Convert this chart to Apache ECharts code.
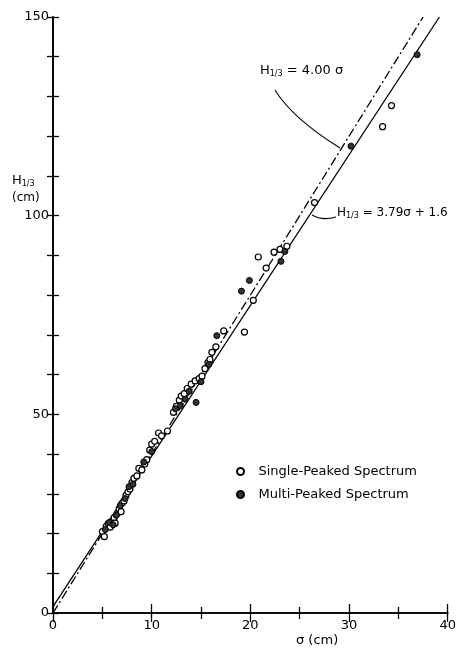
<!DOCTYPE html>
<html>
<head>
<meta charset="utf-8">
<script src="https://cdn.jsdelivr.net/npm/echarts@6/dist/echarts.min.js"></script>
<style>
  html, body { margin: 0; padding: 0; background: #fff; }
  #chart { width: 459px; height: 654px; }
</style>
</head>
<body>
<div id="chart"></div>
<script>
// sigma (cm), H1/3 (cm)
var singlePeaked = [
  [5.0, 20.5], [5.2, 19.2], [5.4, 21.8], [5.6, 22.5], [5.8, 21.6], [6.0, 23.2],
  [6.2, 24.0], [6.3, 22.6], [6.5, 25.0], [6.7, 26.2], [6.9, 25.5], [7.0, 27.6],
  [7.2, 28.2], [7.4, 29.6], [7.6, 30.5], [7.8, 31.2], [8.0, 32.8], [8.2, 33.9],
  [8.5, 34.5], [8.7, 36.4], [9.0, 36.0], [9.3, 37.5], [9.5, 38.6], [9.8, 41.0],
  [10.0, 42.5], [10.3, 43.2], [10.7, 45.3], [11.0, 44.6], [11.6, 45.8], [12.2, 50.5],
  [12.5, 52.0], [12.8, 53.6], [13.0, 54.6], [13.3, 55.2], [13.6, 56.5], [14.0, 57.6],
  [14.4, 58.4], [14.8, 59.0], [15.1, 59.6], [15.4, 61.5], [15.7, 63.0], [15.9, 63.8],
  [16.1, 65.6], [16.5, 67.0], [17.3, 71.0], [19.4, 70.7], [20.3, 78.7], [20.8, 89.6],
  [21.6, 86.8], [22.4, 90.8], [23.0, 91.5], [23.7, 92.3], [26.5, 103.3], [33.4, 122.4],
  [34.3, 127.7]
];
var multiPeaked = [
  [5.3, 21.0], [5.7, 22.8], [6.1, 22.2], [6.4, 24.6], [6.8, 27.0], [7.3, 28.8],
  [7.7, 31.8], [8.1, 32.4], [9.2, 38.0], [10.0, 40.6], [12.4, 51.4], [12.9, 52.2],
  [13.4, 53.8], [13.8, 55.8], [14.5, 53.0], [15.0, 58.2], [15.8, 62.6], [16.6, 69.8],
  [19.1, 81.0], [19.9, 83.7], [23.1, 88.5], [23.5, 91.0], [30.2, 117.5], [36.9, 140.5]
];
// fitted lines: [slope, intercept]
var fitTheory = [4.00, 0];
var fitData = [3.79, 1.6];
var xTicks = [0, 10, 20, 30, 40];
var yTicks = [0, 50, 100, 150];

var yMax = 150;
function fitLine(c) {
  return [[0, c[1]], [(yMax - c[1]) / c[0], yMax]];
}

var font = '"DejaVu Sans", sans-serif';
var chart = echarts.init(document.getElementById('chart'));

var axisCommon = {
  axisLine: { show: true, lineStyle: { color: '#000', width: 1.6 } },
  splitLine: { show: false },
  minorSplitLine: { show: false }
};

chart.setOption({
  animation: false,
  backgroundColor: '#fff',
  grid: { left: 53, right: 7, top: 17, bottom: 41 },
  xAxis: [
    Object.assign({
      type: 'value', min: 0, max: 40, interval: 10, position: 'bottom',
      axisTick: { inside: true, length: 9, lineStyle: { color: '#000', width: 1.3 } },
      minorTick: { show: true, splitNumber: 2, length: 6, lineStyle: { color: '#000', width: 1.3 } },
      axisLabel: {
        color: '#000', fontFamily: font, fontSize: 13, margin: 6,
        formatter: function (v) { return xTicks.indexOf(v) >= 0 ? v : ''; }
      }
    }, axisCommon),
    Object.assign({
      type: 'value', min: 0, max: 40, interval: 10, position: 'top',
      axisTick: { inside: true, length: 9, lineStyle: { color: '#000', width: 1.3 } },
      minorTick: { show: true, splitNumber: 2, length: 6, lineStyle: { color: '#000', width: 1.3 } },
      axisLabel: { show: false }
    }, axisCommon)
  ],
  yAxis: [
    Object.assign({
      type: 'value', min: 0, max: 150, interval: 10, position: 'left',
      axisTick: { inside: true, length: 6, lineStyle: { color: '#000', width: 1.3 } },
      axisLabel: {
        color: '#000', fontFamily: font, fontSize: 13, margin: 4,
        formatter: function (v) { return yTicks.indexOf(v) >= 0 ? v : ''; }
      }
    }, axisCommon),
    Object.assign({
      type: 'value', min: 0, max: 150, interval: 10, position: 'right',
      axisTick: { inside: true, length: 6, lineStyle: { color: '#000', width: 1.3 } },
      axisLabel: { show: false }
    }, axisCommon)
  ],
  legend: {
    orient: 'vertical', left: 231, top: 460,
    itemWidth: 14, itemHeight: 7, itemGap: 10,
    textStyle: { color: '#000', fontFamily: font, fontSize: 13, padding: [0, 0, 0, 6] },
    data: ['Single-Peaked Spectrum', 'Multi-Peaked Spectrum']
  },
  graphic: [
    {
      type: 'text', left: 12, top: 174,
      style: {
        text: '{h|H}{s|1/3}\n{u|(cm)}',
        fill: '#000', font: '13px ' + font,
        rich: {
          h: { fontSize: 13, fontFamily: font },
          s: { fontSize: 8, fontFamily: font, verticalAlign: 'bottom', padding: [6, 0, 0, 0] },
          u: { fontSize: 12, fontFamily: font, lineHeight: 20 }
        }
      }
    },
    {
      type: 'text', left: 296, top: 634,
      style: { text: 'σ (cm)', fill: '#000', font: '13px ' + font }
    },
    {
      type: 'text', left: 260, top: 64,
      style: {
        text: '{h|H}{s|1/3}{n| = 4.00 σ}',
        fill: '#000',
        rich: {
          h: { fontSize: 13, fontFamily: font },
          s: { fontSize: 8, fontFamily: font, padding: [6, 0, 0, 0] },
          n: { fontSize: 13, fontFamily: font }
        }
      }
    },
    {
      type: 'bezierCurve',
      shape: { x1: 275, y1: 90, cpx1: 292, cpy1: 118, x2: 340, y2: 148 },
      style: { stroke: '#000', lineWidth: 1.1, fill: null }
    },
    {
      type: 'text', left: 337, top: 207,
      style: {
        text: '{h|H}{s|1/3}{n| = 3.79σ + 1.6}',
        fill: '#000',
        rich: {
          h: { fontSize: 12, fontFamily: font },
          s: { fontSize: 8, fontFamily: font, padding: [6, 0, 0, 0] },
          n: { fontSize: 12, fontFamily: font }
        }
      }
    },
    {
      type: 'bezierCurve',
      shape: { x1: 312, y1: 215, cpx1: 322, cpy1: 221, x2: 336, y2: 217 },
      style: { stroke: '#000', lineWidth: 1.1, fill: null }
    }
  ],
  series: [
    {
      name: 'theory', type: 'line', data: fitLine(fitTheory), symbol: 'none',
      lineStyle: { color: '#000', width: 1.3, type: [9, 3, 2, 3] }, z: 2
    },
    {
      name: 'fit', type: 'line', data: fitLine(fitData), symbol: 'none',
      lineStyle: { color: '#000', width: 1.3 }, z: 2
    },
    {
      name: 'Single-Peaked Spectrum', type: 'scatter', data: singlePeaked,
      symbol: 'circle', symbolSize: 6,
      itemStyle: { color: '#fff', borderColor: '#000', borderWidth: 1.2, opacity: 1 }, z: 3
    },
    {
      name: 'Multi-Peaked Spectrum', type: 'scatter', data: multiPeaked,
      symbol: 'circle', symbolSize: 6,
      itemStyle: { color: '#333', borderColor: '#000', borderWidth: 1, opacity: 1 }, z: 4
    }
  ]
});
</script>
</body>
</html>
